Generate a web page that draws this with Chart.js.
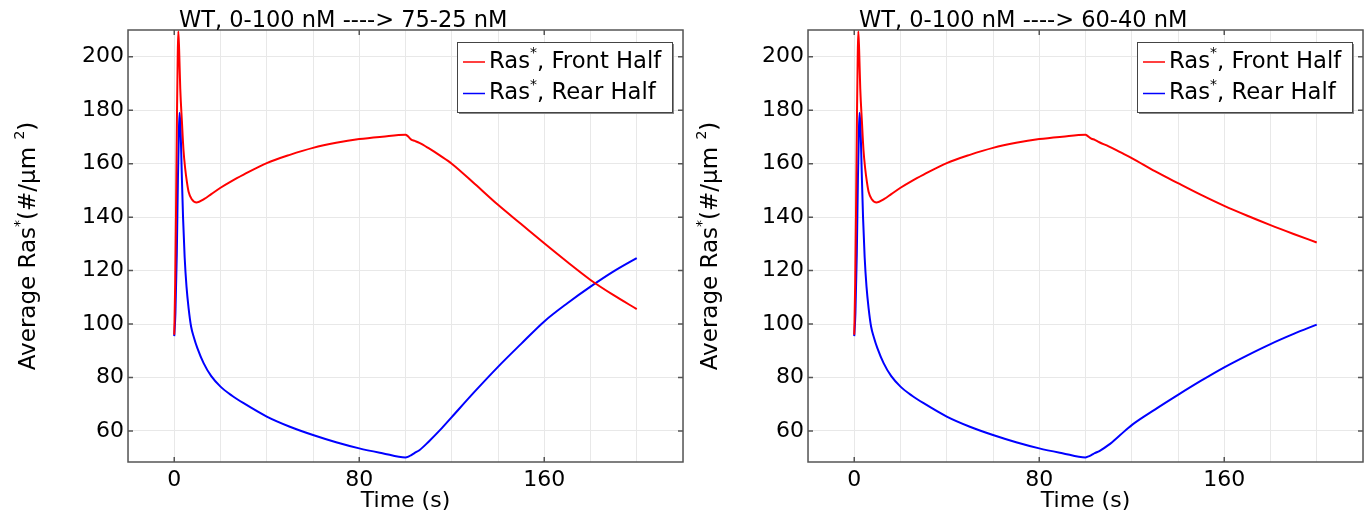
<!DOCTYPE html>
<html>
<head>
<meta charset="utf-8">
<script src="https://cdn.jsdelivr.net/npm/chart.js@4.4.0/dist/chart.umd.min.js"></script>
<style>
  body { margin: 0; background: #fff; width: 1369px; height: 514px; overflow: hidden; }
  canvas { position: absolute; top: 0; }
</style>
</head>
<body>
<canvas id="left" width="684" height="514" style="left:0"></canvas>
<canvas id="right" width="685" height="514" style="left:684px"></canvas>
<script>
// ---- data ----
const xTickLabels = [0, 80, 160];

// first 100 s are the same run (0-100 nM gradient) in both panels
const timeFrontEarly = [0, 0.4, 0.8, 1.2, 1.5, 1.75, 2.1, 2.6, 3.3, 4, 4.75, 5.5, 6.2, 7.5, 9.7, 13, 16, 20, 25, 30, 40, 50, 60, 70, 80, 90, 100];
const frontEarly = [96, 115, 145, 180, 200, 209.5, 203, 188, 176, 165, 158, 153, 149.5, 146.8, 145.5, 146.8, 148.6, 151, 153.6, 155.9, 160.2, 163.3, 165.9, 167.8, 169.2, 170.1, 170.8];

const timeRearEarly = [0, 0.5, 1.1, 1.6, 2.0, 2.3, 2.7, 3.2, 3.8, 4.5, 5.3, 6.2, 7.3, 8.5, 10, 12.7, 16, 20, 25, 30, 40, 50, 60, 70, 80, 90, 100];
const rearEarly = [95.5, 104, 126, 155, 172, 179, 174, 158, 140, 125, 114, 106, 99, 95, 91, 85.4, 80.5, 76.6, 73.2, 70.4, 65.4, 61.6, 58.5, 55.8, 53.5, 51.7, 50.1];

// after the switch at 100 s
const timeLate = [101, 102.5, 104, 106, 110, 115, 120, 130, 140, 150, 160, 170, 180, 190, 200];
const front75 = [170.3, 169, 168.5, 167.8, 165.8, 163, 160, 152.4, 144.6, 137.4, 130.2, 123.2, 116.5, 110.8, 105.6];
const rear75  = [50.3, 51, 51.8, 52.8, 56, 60.4, 65.2, 74.8, 84, 92.6, 101, 107.8, 114, 119.7, 124.7];
const front60 = [170.3, 169.4, 168.9, 168, 166.5, 164.3, 162.1, 157.2, 152.7, 148.3, 144.2, 140.5, 137, 133.7, 130.5];
const rear60  = [50.4, 51, 51.7, 52.5, 54.8, 58.5, 62.2, 68, 73.5, 78.8, 83.8, 88.3, 92.5, 96.3, 99.8];

const FONT = '"DejaVu Sans", sans-serif';

function toPoints(times, values) {
  return times.map((t, i) => ({ x: t, y: values[i] }));
}

// draw text with superscript pieces, centred or left-aligned
function drawRuns(ctx, runs, x, y, size, align) {
  const supSize = Math.round(size * 0.6);
  let total = 0;
  runs.forEach(r => {
    ctx.font = `${r.sup ? supSize : size}px ${FONT}`;
    r.w = ctx.measureText(r.t).width;
    total += r.w;
  });
  let cx = align === 'center' ? x - total / 2 : x;
  ctx.textAlign = 'left';
  ctx.textBaseline = 'middle';
  runs.forEach(r => {
    ctx.font = `${r.sup ? supSize : size}px ${FONT}`;
    ctx.fillText(r.t, cx, r.sup ? y - size * 0.38 : y);
    cx += r.w;
  });
}

const decorPlugin = {
  id: 'decor',
  afterDraw(chart) {
    const ctx = chart.ctx;
    const area = chart.chartArea;
    const xs = chart.scales.x, ys = chart.scales.y;
    const cfg = chart.options.plugins.decor;
    ctx.save();

    // frame
    ctx.strokeStyle = '#555';
    ctx.lineWidth = 1.5;
    ctx.strokeRect(area.left, area.top, area.right - area.left, area.bottom - area.top);

    // inward tick marks
    ctx.beginPath();
    xTickLabels.forEach(v => {
      const px = xs.getPixelForValue(v);
      ctx.moveTo(px, area.bottom); ctx.lineTo(px, area.bottom - 5);
      ctx.moveTo(px, area.top); ctx.lineTo(px, area.top + 5);
    });
    for (let v = 60; v <= 200; v += 20) {
      const py = ys.getPixelForValue(v);
      ctx.moveTo(area.left, py); ctx.lineTo(area.left + 5, py);
      ctx.moveTo(area.right, py); ctx.lineTo(area.right - 5, py);
    }
    ctx.stroke();

    ctx.fillStyle = '#000';
    // title
    ctx.font = `22.5px ${FONT}`;
    ctx.textAlign = 'left';
    ctx.textBaseline = 'alphabetic';
    ctx.fillText(cfg.title, area.left + 51, 27);

    // x axis title
    ctx.font = `22px ${FONT}`;
    ctx.textAlign = 'center';
    ctx.textBaseline = 'middle';
    ctx.fillText('Time (s)', (area.left + area.right) / 2, 501);

    // y axis title
    ctx.save();
    ctx.translate(cfg.yTitleX, (area.top + area.bottom) / 2);
    ctx.rotate(-Math.PI / 2);
    drawRuns(ctx, [
      { t: 'Average Ras' }, { t: '*', sup: true }, { t: '(#/\u03bcm ' }, { t: '2', sup: true }, { t: ')' }
    ], 0, 0, 23, 'center');
    ctx.restore();

    // legend box
    const bw = 215, bh = 70;
    const bx = area.right - 11 - bw, by = 42;
    ctx.fillStyle = '#888';
    ctx.fillRect(bx + 2, by + 2, bw, bh);
    ctx.fillStyle = '#fff';
    ctx.fillRect(bx, by, bw, bh);
    ctx.strokeStyle = '#444';
    ctx.lineWidth = 1;
    ctx.strokeRect(bx + 0.5, by + 0.5, bw, bh);
    chart.data.datasets.forEach((ds, i) => {
      const ly = by + 20 + i * 31.5;
      ctx.strokeStyle = ds.borderColor;
      ctx.lineWidth = 1.5;
      ctx.beginPath();
      ctx.moveTo(bx + 6, ly); ctx.lineTo(bx + 28, ly);
      ctx.stroke();
      ctx.fillStyle = '#000';
      drawRuns(ctx, [{ t: 'Ras' }, { t: '*', sup: true }, { t: ds.label }], bx + 32, ly, 22.7, 'left');
    });
    ctx.restore();
  }
};

function makeChart(id, title, frontLate, rearLate, yWidth, padRight, yTitleX) {
  const tickFont = { family: FONT, size: 22 };
  return new Chart(document.getElementById(id), {
    type: 'line',
    data: {
      datasets: [
        {
          label: ', Front Half',
          data: toPoints(timeFrontEarly.concat(timeLate), frontEarly.concat(frontLate)),
          borderColor: '#ff0000'
        },
        {
          label: ', Rear Half',
          data: toPoints(timeRearEarly.concat(timeLate), rearEarly.concat(rearLate)),
          borderColor: '#0000ff'
        }
      ]
    },
    options: {
      responsive: false,
      animation: false,
      layout: { padding: { top: 30, right: padRight, bottom: 0, left: 0 } },
      elements: {
        point: { radius: 0 },
        line: { borderWidth: 2, cubicInterpolationMode: 'monotone' }
      },
      plugins: {
        legend: { display: false },
        tooltip: { enabled: false },
        decor: { title: title, yTitleX: yTitleX }
      },
      scales: {
        x: {
          type: 'linear',
          min: -20,
          max: 220,
          ticks: {
            stepSize: 20,
            autoSkip: false,
            maxRotation: 0,
            color: '#000',
            font: tickFont,
            padding: 5,
            callback: v => xTickLabels.includes(v) ? String(v) : ''
          },
          grid: { color: '#e8e8e8', drawTicks: false },
          border: { display: false },
          afterFit(s) { s.height = 52; s.paddingLeft = 0; s.paddingRight = 0; }
        },
        y: {
          min: 48.4,
          max: 210,
          ticks: { stepSize: 20, includeBounds: false, color: '#000', font: tickFont, padding: 4 },
          grid: { color: '#e8e8e8', drawTicks: false },
          border: { display: false },
          afterFit(s) { s.width = yWidth; s.paddingTop = 0; s.paddingBottom = 0; }
        }
      }
    },
    plugins: [decorPlugin]
  });
}

makeChart('left', 'WT, 0-100 nM ----> 75-25 nM', front75, rear75, 128, 1, 29);
makeChart('right', 'WT, 0-100 nM ----> 60-40 nM', front60, rear60, 124, 6, 27);
</script>
</body>
</html>
